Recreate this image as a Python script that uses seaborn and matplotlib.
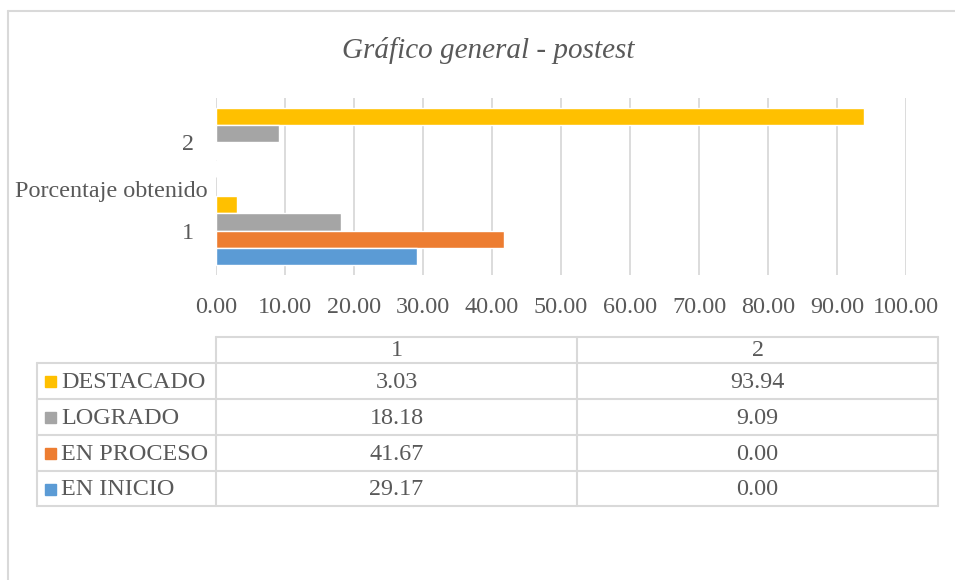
import matplotlib
matplotlib.use("Agg")
import matplotlib.pyplot as plt
from matplotlib.lines import Line2D
from matplotlib.patches import Rectangle
import seaborn as sns
import pandas as pd

# ---- data ----
categories = ["1", "2"]
levels = ["DESTACADO", "LOGRADO", "EN PROCESO", "EN INICIO"]
destacado = [3.03, 93.94]
logrado = [18.18, 9.09]
en_proceso = [41.67, 0.00]
en_inicio = [29.17, 0.00]
x_ticks = [0, 10, 20, 30, 40, 50, 60, 70, 80, 90, 100]
title = "Gráfico general - postest"
axis_group_label = "Porcentaje obtenido"

series = {"DESTACADO": destacado, "LOGRADO": logrado,
          "EN PROCESO": en_proceso, "EN INICIO": en_inicio}
colors = {"DESTACADO": "#FFC000", "LOGRADO": "#A5A5A5",
          "EN PROCESO": "#ED7D31", "EN INICIO": "#5B9BD5"}

rows = []
for lvl in levels:
    for cat, v in zip(categories, series[lvl]):
        rows.append({"grupo": cat, "nivel": lvl, "valor": v})
df = pd.DataFrame(rows)

sns.set_theme(style="white")
plt.rcParams["font.family"] = ["Liberation Serif", "DejaVu Serif"]
TXT = "#595959"
GRID = "#d9d9d9"
FS = 17.4
W, H = 955, 580
fig = plt.figure(figsize=(W / 100, H / 100), dpi=100)

def px(x0, y0, x1, y1):
    return [x0 / W, 1 - y1 / H, (x1 - x0) / W, (y1 - y0) / H]

ax = fig.add_axes(px(216, 98, 906, 275))
sns.barplot(data=df, y="grupo", x="valor", hue="nivel", order=["2", "1"],
            hue_order=levels, palette=colors, width=0.78, orient="h",
            saturation=1, legend=False, ax=ax)
ax.set_xlim(0, 100)
ax.set_xticks(x_ticks)
ax.set_xticklabels([f"{t:.2f}" for t in x_ticks])
ax.grid(axis="x", color=GRID, lw=1.3)
ax.grid(axis="y", visible=False)
ax.set_axisbelow(True)
for s in ax.spines.values():
    s.set_visible(False)
ax.tick_params(axis="x", length=0, pad=16, labelsize=FS, labelcolor=TXT)
ax.tick_params(axis="y", length=0, pad=16, labelsize=FS, labelcolor=TXT)
ax.set_xlabel("")
ax.set_ylabel("")
ax.text(-0.012, 0.47, axis_group_label, transform=ax.transAxes, ha="right",
        va="center", fontsize=FS, color=TXT)

# ---- overlay: title, border, data table ----
ov = fig.add_axes([0, 0, 1, 1], zorder=-1)
ov.set_xlim(0, W)
ov.set_ylim(H, 0)
ov.axis("off")
ov.add_line(Line2D([8, 8], [11, H], color=GRID, lw=1.5))
ov.add_line(Line2D([8, W], [11, 11], color=GRID, lw=1.5))
ov.text(488, 51, title, ha="center", va="center", fontsize=21,
        style="italic", color=TXT)

col_x = [37, 216, 577, 938]
row_y = [337, 363, 399, 435, 471, 506]
lw = 1.5
# header row (no legend cell)
ov.add_line(Line2D([216, 938], [row_y[0], row_y[0]], color=GRID, lw=lw))
for y in row_y[1:]:
    ov.add_line(Line2D([37, 938], [y, y], color=GRID, lw=lw))
ov.add_line(Line2D([37, 37], [row_y[1], row_y[-1]], color=GRID, lw=lw))
for x in col_x[1:]:
    ov.add_line(Line2D([x, x], [row_y[0], row_y[-1]], color=GRID, lw=lw))
for j, cat in enumerate(categories):
    ov.text((col_x[j + 1] + col_x[j + 2]) / 2, (row_y[0] + row_y[1]) / 2 + 1,
            cat, ha="center", va="center", fontsize=FS, color=TXT)
for i, lvl in enumerate(levels):
    yc = (row_y[i + 1] + row_y[i + 2]) / 2 + 1
    ov.add_patch(Rectangle((45, yc - 6), 11, 11, color=colors[lvl]))
    ov.text(61, yc, lvl, ha="left", va="center", fontsize=FS, color=TXT)
    for j, cat in enumerate(categories):
        ov.text((col_x[j + 1] + col_x[j + 2]) / 2, yc, f"{series[lvl][j]:.2f}",
                ha="center", va="center", fontsize=FS, color=TXT)

fig.savefig("out.png", dpi=100)
